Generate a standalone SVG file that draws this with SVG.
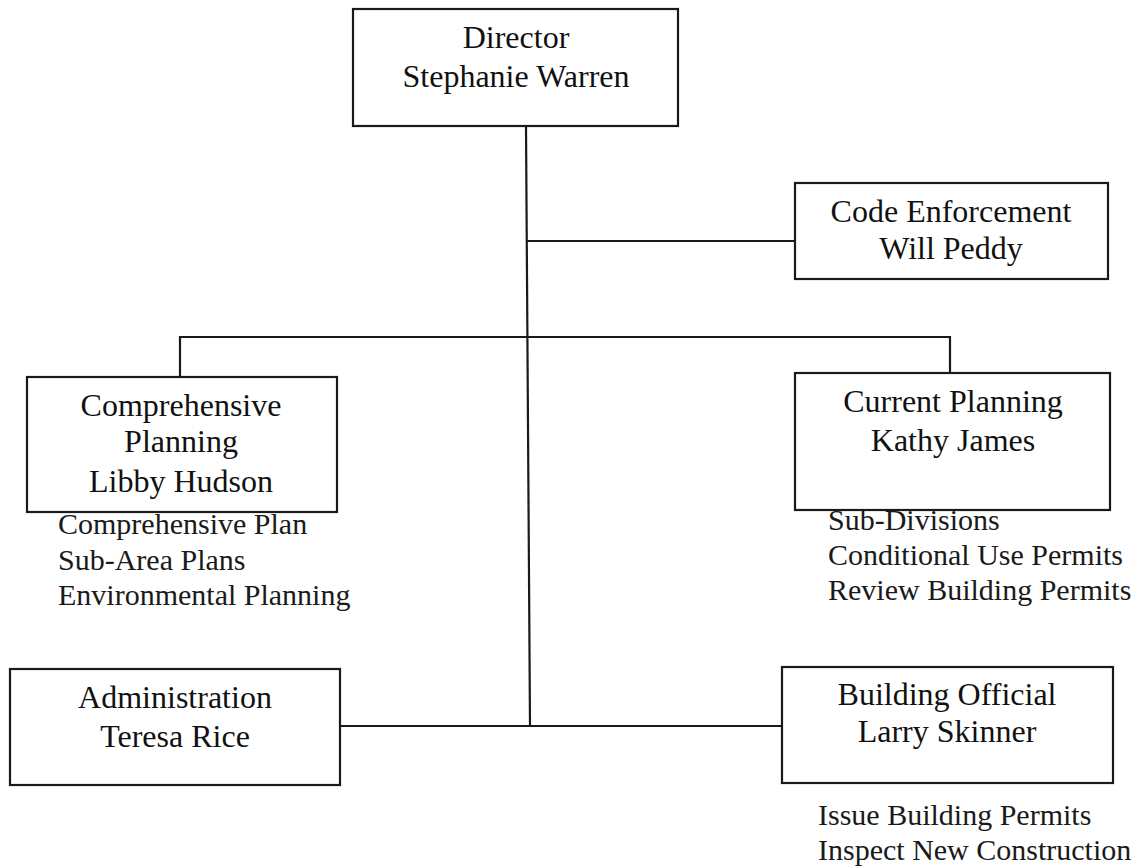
<svg xmlns="http://www.w3.org/2000/svg" width="1144" height="867" viewBox="0 0 1144 867">
<style>
.box{fill:#fff;stroke:#1a1a1a;stroke-width:2.2}
.ln{fill:none;stroke:#1a1a1a;stroke-width:2.2}
.t{font-family:"Liberation Serif","Times New Roman",serif;font-size:32px;fill:#111;text-anchor:middle}
.s{font-family:"Liberation Serif","Times New Roman",serif;font-size:30px;fill:#1a1a1a}
</style>
<rect width="1144" height="867" fill="#fff"/>
<g id="connectors">
<line class="ln" x1="526" y1="126" x2="530" y2="726"/>
<line class="ln" x1="527" y1="241" x2="795" y2="241"/>
<path class="ln" d="M180,377 V337 H950 V373"/>
<line class="ln" x1="340" y1="726" x2="782" y2="726"/>
</g>
<g id="director">
<rect class="box" x="353" y="9" width="325" height="117"/>
<text class="t" x="516" y="48">Director</text>
<text class="t" x="516" y="87">Stephanie Warren</text>
</g>
<g id="code-enforcement">
<rect class="box" x="795" y="183" width="313" height="96"/>
<text class="t" x="951" y="222">Code Enforcement</text>
<text class="t" x="951" y="259">Will Peddy</text>
</g>
<g id="comprehensive-planning">
<rect class="box" x="27" y="377" width="310" height="135"/>
<text class="t" x="181" y="416">Comprehensive</text>
<text class="t" x="181" y="452">Planning</text>
<text class="t" x="181" y="492">Libby Hudson</text>
<text class="s" x="58" y="534">Comprehensive Plan</text>
<text class="s" x="58" y="570">Sub-Area Plans</text>
<text class="s" x="58" y="605">Environmental Planning</text>
</g>
<g id="current-planning">
<rect class="box" x="795" y="373" width="315" height="137"/>
<text class="t" x="953" y="412">Current Planning</text>
<text class="t" x="953" y="451">Kathy James</text>
<text class="s" x="828" y="530">Sub-Divisions</text>
<text class="s" x="828" y="565">Conditional Use Permits</text>
<text class="s" x="828" y="600">Review Building Permits</text>
</g>
<g id="administration">
<rect class="box" x="10" y="669" width="330" height="116"/>
<text class="t" x="175" y="708">Administration</text>
<text class="t" x="175" y="747">Teresa Rice</text>
</g>
<g id="building-official">
<rect class="box" x="782" y="667" width="331" height="116"/>
<text class="t" x="947" y="705">Building Official</text>
<text class="t" x="947" y="742">Larry Skinner</text>
<text class="s" x="818" y="825">Issue Building Permits</text>
<text class="s" x="818" y="860">Inspect New Construction</text>
</g>
</svg>
